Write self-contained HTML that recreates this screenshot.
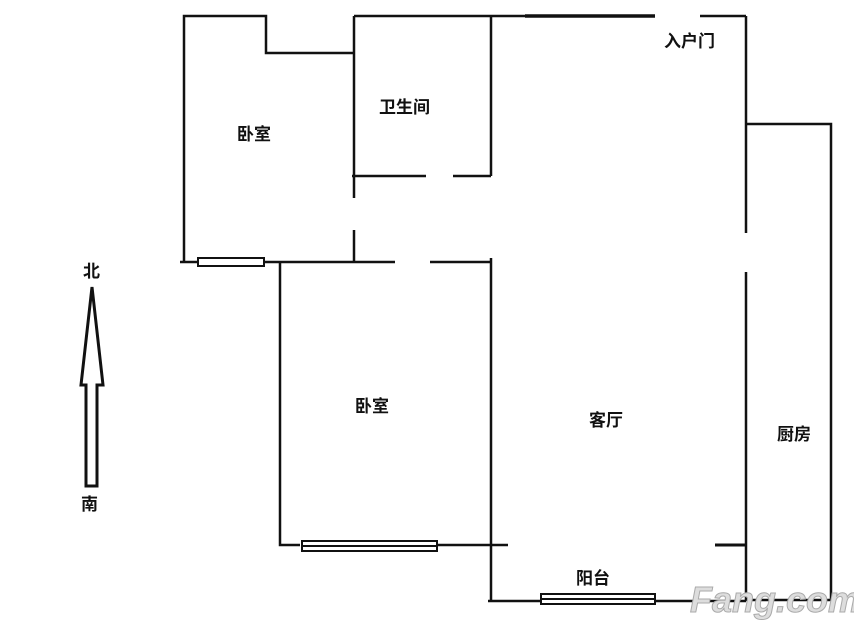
<!DOCTYPE html>
<html><head><meta charset="utf-8"><style>
body{margin:0;background:#fff;}
svg text{font-family:"Liberation Sans","Noto Sans CJK SC",sans-serif;font-size:17px;font-weight:bold;fill:#111;}
</style></head><body>
<svg width="854" height="631" viewBox="0 0 854 631" xmlns="http://www.w3.org/2000/svg">
<rect width="854" height="631" fill="#fff"/>
<g stroke="#111" stroke-width="2.5" fill="none">
<polyline points="184,262 184,16 266,16 266,53 354,53"/>
<line x1="354" y1="16" x2="655" y2="16"/>
<line x1="525" y1="16" x2="655" y2="16" stroke-width="3.5"/>
<line x1="700" y1="16" x2="746" y2="16"/>
<line x1="746" y1="16" x2="746" y2="233"/>
<line x1="746" y1="272" x2="746" y2="600"/>
<polyline points="746,124 831,124 831,600 746,600"/>
<line x1="354" y1="16" x2="354" y2="198"/>
<line x1="354" y1="230" x2="354" y2="262"/>
<line x1="352" y1="176" x2="426" y2="176"/>
<line x1="453" y1="176" x2="491" y2="176"/>
<line x1="491" y1="16" x2="491" y2="176"/>
<line x1="180" y1="262" x2="395" y2="262"/>
<line x1="430" y1="262" x2="491" y2="262"/>
<line x1="491" y1="258" x2="491" y2="602"/>
<polyline points="280,262 280,545 300,545"/>
<line x1="437" y1="545" x2="508" y2="545"/>
<line x1="715" y1="545" x2="746" y2="545" stroke-width="3"/>
<line x1="488" y1="601" x2="541" y2="601"/>
<line x1="655" y1="601" x2="746" y2="601"/>
</g>
<g stroke="#111" stroke-width="2" fill="#fff">
<rect x="198" y="258" width="66" height="8"/>
<rect x="302" y="541" width="135" height="10"/>
<line x1="302" y1="546" x2="437" y2="546"/>
<rect x="541" y="594" width="114" height="10"/>
<line x1="541" y1="599" x2="655" y2="599"/>
<polygon points="92,287 103,385 97,385 97,486 86,486 86,385 81,385" stroke-width="3"/>
</g>
<text x="237" y="140">卧室</text>
<text x="379" y="113">卫生间</text>
<text x="664" y="47">入户门</text>
<text x="355" y="412">卧室</text>
<text x="589" y="426">客厅</text>
<text x="777" y="440">厨房</text>
<text x="576" y="584">阳台</text>
<text x="83" y="277">北</text>
<text x="81" y="510">南</text>
<text x="690" y="612" style="font-size:36px;fill:#ddd;font-style:italic;" stroke="#aaa" stroke-width="1">Fang.com</text>
</svg>
</body></html>
